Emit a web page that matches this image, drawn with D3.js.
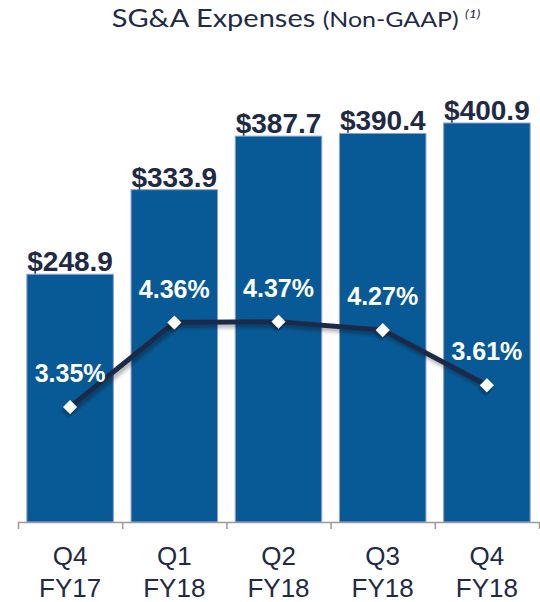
<!DOCTYPE html>
<html>
<head>
<meta charset="utf-8">
<title>SG&amp;A Expenses (Non-GAAP)</title>
<script src="https://cdnjs.cloudflare.com/ajax/libs/d3/7.8.5/d3.min.js"></script>
<style>
  body { margin: 0; background: #fff; }
  svg { display: block; }
  .val { font-family: "Liberation Sans", Arial, sans-serif; font-weight: bold; font-size: 28px; fill: #1f2a44; }
  .pct { font-family: "Liberation Sans", Arial, sans-serif; font-weight: bold; font-size: 25px; fill: #fff; }
  .cat text { font-family: "Liberation Sans", Arial, sans-serif; font-size: 26px; fill: #1f2a44; }
</style>
</head>
<body>
<div id="chart"></div>
<script>
// data
var quarters = ["Q4", "Q1", "Q2", "Q3", "Q4"];
var fiscalYears = ["FY17", "FY18", "FY18", "FY18", "FY18"];
var expenses = [248.9, 333.9, 387.7, 390.4, 400.9];   // $M
var pctOfSales = [3.35, 4.36, 4.37, 4.27, 3.61];      // %

var categories = quarters.map(function(q, i) { return q + " " + fiscalYears[i]; });

var width = 540, height = 602;
var baseY = 522;

var svg = d3.select("#chart").append("svg")
  .attr("width", width)
  .attr("height", height);

// line shadow
var defs = svg.append("defs");
defs.append("filter").attr("id", "shadow")
  .attr("x", "-10%").attr("y", "-30%").attr("width", "130%").attr("height", "180%")
  .append("feDropShadow")
  .attr("dx", 2).attr("dy", 3).attr("stdDeviation", 2)
  .attr("flood-color", "#000").attr("flood-opacity", 0.35);

var x = d3.scaleBand()
  .domain(categories)
  .range([18, 539])
  .paddingInner(0.17)
  .paddingOuter(0.085);

// boundaries between categories, for the tick marks
var xEdge = d3.scaleLinear().domain([0, categories.length]).range([18, 539]);

var y = d3.scaleLinear().domain([0, 420]).range([baseY, 104]);
var y2 = d3.scaleLinear().domain([2, 5]).range([520, 269]);

// title (font is a bit wider than Lato in the original, so stretch it)
var title = svg.append("text")
  .attr("transform", "translate(296,27) scale(1.16,1)")
  .attr("text-anchor", "middle")
  .style("font-family", "Lato, 'Open Sans', sans-serif")
  .style("fill", "#1f2a44");
title.append("tspan").style("font-size", "25px").text("SG&A Expenses ");
title.append("tspan").style("font-size", "21.5px").text("(Non-GAAP) ");
title.append("tspan").style("font-size", "12px").style("font-style", "italic")
  .attr("dy", -9).text("(1)");

// bars
svg.selectAll("rect.bar")
  .data(expenses)
  .enter().append("rect")
  .attr("class", "bar")
  .attr("x", function(d, i) { return x(categories[i]); })
  .attr("width", x.bandwidth())
  .attr("y", function(d) { return y(d); })
  .attr("height", function(d) { return baseY - y(d); })
  .attr("fill", "#085a96")
  .attr("stroke", "#8c9fd3")
  .attr("stroke-width", 1);

svg.selectAll("text.val")
  .data(expenses)
  .enter().append("text")
  .attr("class", "val")
  .attr("x", function(d, i) { return x(categories[i]) + x.bandwidth() / 2; })
  .attr("y", function(d) { return y(d) - 3; })
  .attr("text-anchor", "middle")
  .text(function(d) { return "$" + d3.format(".1f")(d); });

// axis: baseline with tick marks at category edges
svg.append("g")
  .attr("transform", "translate(0," + baseY + ")")
  .call(d3.axisBottom(xEdge).tickValues(d3.range(categories.length + 1)).tickFormat("").tickSize(7).tickSizeOuter(0))
  .call(function(g) {
    g.select(".domain").attr("stroke", "#9a9a9a").attr("stroke-width", 1.5);
    g.selectAll(".tick line").attr("stroke", "#9a9a9a").attr("stroke-width", 1.5);
  });

// category labels on two lines
var cat = svg.append("g")
  .attr("class", "cat")
  .attr("transform", "translate(0," + baseY + ")")
  .call(d3.axisBottom(x).tickSize(0).tickFormat(""))
  .call(function(g) { g.select(".domain").remove(); });
cat.selectAll(".tick").each(function(d, i) {
  var t = d3.select(this).select("text").attr("y", 0).attr("dy", null);
  t.append("tspan").attr("x", 0).attr("y", 43).text(quarters[i]);
  t.append("tspan").attr("x", 0).attr("y", 75).text(fiscalYears[i]);
});

// percent line
var line = d3.line()
  .x(function(d, i) { return x(categories[i]) + x.bandwidth() / 2; })
  .y(function(d) { return y2(d); });

svg.append("path")
  .datum(pctOfSales)
  .attr("d", line)
  .attr("fill", "none")
  .attr("stroke", "#1f2a4a")
  .attr("stroke-width", 5)
  .attr("filter", "url(#shadow)");

svg.selectAll("path.marker")
  .data(pctOfSales)
  .enter().append("path")
  .attr("class", "marker")
  .attr("d", d3.symbol().type(d3.symbolSquare).size(100))
  .attr("transform", function(d, i) {
    return "translate(" + (x(categories[i]) + x.bandwidth() / 2) + "," + y2(d) + ") rotate(45)";
  })
  .attr("fill", "#fff")
  .attr("filter", "url(#shadow)");

svg.selectAll("text.pct")
  .data(pctOfSales)
  .enter().append("text")
  .attr("class", "pct")
  .attr("x", function(d, i) { return x(categories[i]) + x.bandwidth() / 2; })
  .attr("y", function(d) { return y2(d) - 25; })
  .attr("text-anchor", "middle")
  .text(function(d) { return d3.format(".2f")(d) + "%"; });
</script>
</body>
</html>
